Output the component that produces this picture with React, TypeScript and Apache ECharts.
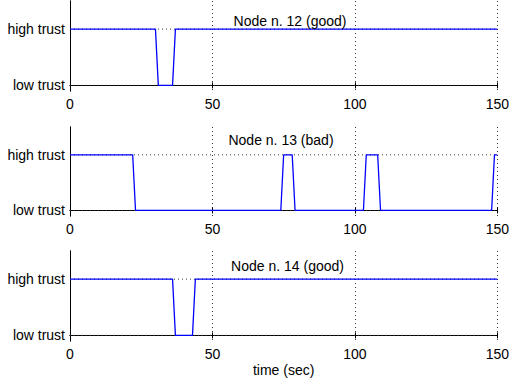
import React, { useEffect, useRef } from "react";
import * as echarts from "echarts";

const node12Time = [0, 30, 31, 36, 37, 150];
const node12Trust = [1, 1, 0, 0, 1, 1];
const node13Time = [0, 22, 23, 74, 75, 78, 79, 103, 104, 108, 109, 148, 149, 150];
const node13Trust = [1, 1, 0, 0, 1, 1, 0, 0, 1, 1, 0, 0, 1, 1];
const node14Time = [0, 36, 37, 43, 44, 150];
const node14Trust = [1, 1, 0, 0, 1, 1];

const panelTitles = ["Node n. 12 (good)", "Node n. 13 (bad)", "Node n. 14 (good)"];
const yTickValues = [0, 1];
const yTickLabels = ["low trust", "high trust"];
const xTickValues = [0, 50, 100, 150];
const xAxisName = "time (sec)";
const xMin = 0;
const xMax = 150;

const FONT = 'Helvetica, "Liberation Sans", Arial, sans-serif';

export default function App() {
  const ref = useRef<HTMLDivElement>(null);
  useEffect(() => {
    if (!ref.current) return;
    const chart = echarts.init(ref.current, undefined, { renderer: "svg" });
    const times = [node12Time, node13Time, node14Time];
    const trusts = [node12Trust, node13Trust, node14Trust];
    const grids = [
      { left: 70, top: 1, width: 429, height: 90 },
      { left: 70, top: 127, width: 429, height: 89 },
      { left: 70, top: 251, width: 429, height: 90 },
    ];
    const titlePos = [
      [290, 21],
      [281, 140],
      [287.5, 266],
    ];
    const xAxes: any[] = [];
    const yAxes: any[] = [];
    const series: any[] = [];
    grids.forEach((g, i) => {
      const common = {
        gridIndex: i,
        type: "value",
        min: xMin,
        max: xMax,
        interval: 50,
      };
      xAxes.push({
        ...common,
        position: "bottom",
        axisLine: { show: true, lineStyle: { color: "#000", width: 1 } },
        axisTick: { show: true, inside: true, length: 3, lineStyle: { color: "#000" } },
        axisLabel: {
          show: true,
          color: "#000",
          fontSize: 14,
          fontFamily: FONT,
          margin: 6,
          customValues: xTickValues,
        },
        splitLine: { show: true, lineStyle: { color: "#333", type: [1, 3], width: 1 } },
        name: i === 2 ? xAxisName : "",
        nameLocation: "middle",
        nameGap: 22,
        nameTextStyle: { color: "#000", fontSize: 14, fontFamily: FONT },
      });
      xAxes.push({
        ...common,
        position: "top",
        axisLine: { show: true, lineStyle: { color: "#000", width: 1 } },
        axisTick: { show: true, inside: true, length: 3, lineStyle: { color: "#000" } },
        axisLabel: { show: false },
        splitLine: { show: false },
      });
      const ycommon = {
        gridIndex: i,
        type: "value",
        min: -0.1,
        max: 1.5,
      };
      yAxes.push({
        ...ycommon,
        position: "left",
        axisLine: { show: true, lineStyle: { color: "#000", width: 1 } },
        axisTick: { show: false },
        axisLabel: {
          show: true,
          color: "#000",
          fontSize: 14,
          fontFamily: FONT,
          margin: 5,
          customValues: yTickValues,
          formatter: (v: number) => {
            const k = yTickValues.indexOf(v);
            return k >= 0 ? yTickLabels[k] : "";
          },
        },
        splitLine: { show: false },
      });
      yAxes.push({
        ...ycommon,
        position: "right",
        axisLine: { show: true, lineStyle: { color: "#000", width: 1 } },
        axisTick: { show: false },
        axisLabel: { show: false },
        splitLine: { show: false },
      });
      yTickValues.forEach((v) => {
        series.push({
          type: "line",
          xAxisIndex: i * 2,
          yAxisIndex: i * 2,
          data: [
            [xMin, v],
            [xMax, v],
          ],
          showSymbol: false,
          symbol: "none",
          silent: true,
          lineStyle: { color: "#333", width: 1, type: [1, 3] },
          z: 1,
        });
      });
      series.push({
        type: "line",
        xAxisIndex: i * 2,
        yAxisIndex: i * 2,
        data: times[i].map((t, k) => [t, trusts[i][k]]),
        showSymbol: false,
        symbol: "none",
        lineStyle: { color: "#0000ff", width: 1.3 },
        z: 5,
      });
    });
    chart.setOption({
      animation: false,
      backgroundColor: "#fff",
      grid: grids,
      xAxis: xAxes,
      yAxis: yAxes,
      series,
      graphic: panelTitles.map((t, i) => ({
        type: "text",
        x: titlePos[i][0],
        y: titlePos[i][1],
        z: 10,
        style: {
          text: t,
          fill: "#000",
          fontSize: 14,
          fontFamily: FONT,
          textAlign: "center",
          textVerticalAlign: "middle",
        },
      })),
    });
    return () => chart.dispose();
  }, []);
  return (
    <div
      ref={ref}
      style={{ position: "fixed", left: 0, top: 0, width: 512, height: 386 }}
    />
  );
}
